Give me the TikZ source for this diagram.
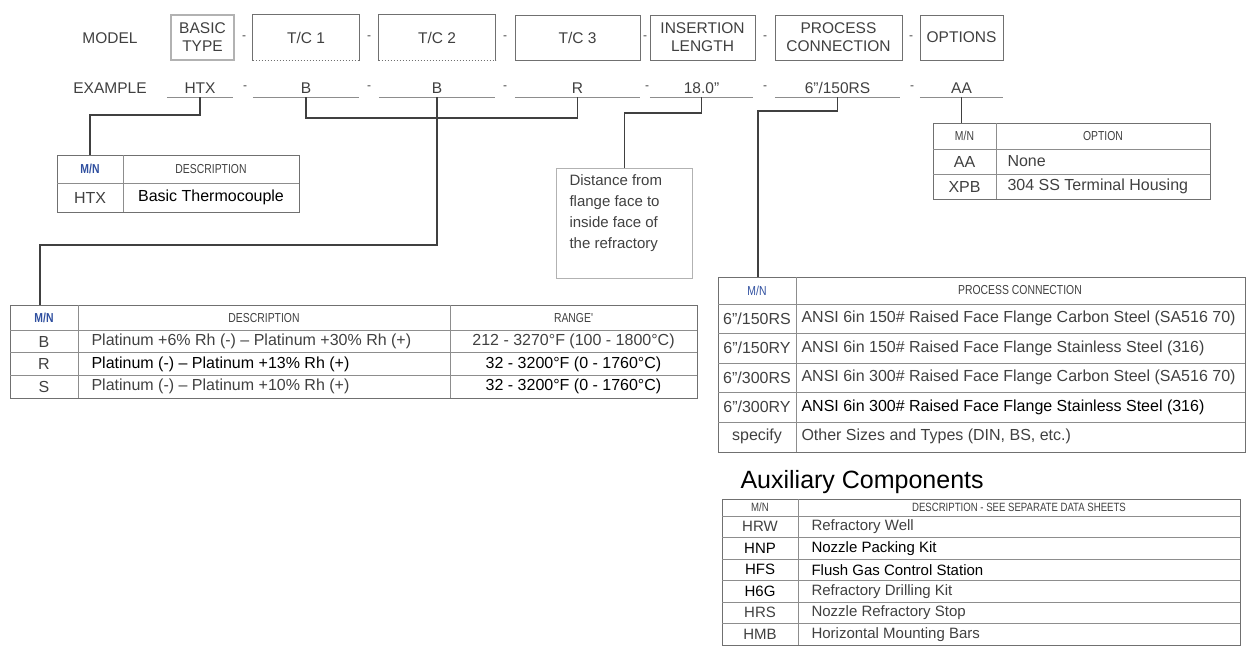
\documentclass[tikz,border=0pt]{standalone}
\usepackage{fontspec}
\setmainfont{Liberation Sans}
\newfontfamily\narrowfont[FakeStretch=0.8]{Liberation Sans}
\usetikzlibrary{positioning}
\definecolor{ink}{HTML}{404040}
\definecolor{rulegray}{HTML}{707070}
\definecolor{mnblue}{HTML}{2F4F9F}
\tikzstyle{conn} = [draw=ink, line width=1.6pt]

\begin{document}
\begin{tikzpicture}[x=1pt, y=-1pt,
        lbl/.style={font=\fontsize{15.5}{18}\selectfont, text=ink},
        fld/.style={draw=rulegray, line width=1pt, minimum height=45pt, inner sep=0pt, align=center, font=\fontsize{15.5}{18}\selectfont, text=ink},
        val/.style={minimum height=18pt, inner sep=0pt, font=\fontsize{15.5}{18}\selectfont, text=ink},
        sep/.style={font=\fontsize{12}{12}\selectfont, text=ink},
        tab/.style={draw=rulegray, line width=1.2pt, inner sep=0pt, anchor=north west},
        grid/.style={draw=rulegray!80, line width=0.9pt},
        hd/.style={font=\narrowfont\fontsize{13}{14}\selectfont, text=ink},
        cell/.style={font=\fontsize{16}{18}\selectfont, text=ink},
        lcell/.style={cell, anchor=west}
        ]
        \useasboundingbox (0,0) rectangle (1247,653);

        % model row
        \node[lbl] (mdl) at (110,38) {MODEL};
        \node[fld, draw=gray!60, line width=1.6pt, minimum width=63pt] (fType) at (202.5,37.5) {BASIC\\TYPE};
        \node[fld, draw=none, minimum width=106pt] (fTC1) at (306,37.5) {T/C 1};
        \node[fld, draw=none, minimum width=116pt] (fTC2) at (437,37.5) {T/C 2};
        \node[fld, minimum width=125pt] (fTC3) at (577.5,37.5) {T/C 3};
        \node[fld, minimum width=105pt] (fIns) at (702.5,37.5) {INSERTION\\LENGTH};
        \node[fld, minimum width=127pt] (fProc) at (838.5,37.5) {PROCESS\\CONNECTION};
        \node[fld, minimum width=83pt] (fOpt) at (961.5,37.5) {OPTIONS};
        \draw[rulegray, line width=1pt] (fTC1.south west) |- (fTC1.north east) -- (fTC1.south east);
        \draw[rulegray, line width=1pt] (fTC2.south west) |- (fTC2.north east) -- (fTC2.south east);
        \draw[rulegray, dotted, line width=1pt] (fTC1.south west) -- (fTC1.south east);
        \draw[rulegray, dotted, line width=1pt] (fTC2.south west) -- (fTC2.south east);

        \node[sep] (m1) at (244,38) {-};
        \node[sep] (m2) at (369,38) {-};
        \node[sep] (m3) at (505,38) {-};
        \node[sep] (m4) at (645,38) {-};
        \node[sep] (m5) at (765,38) {-};
        \node[sep] (m6) at (911,38) {-};

        % example row
        \node[lbl] (ex) at (110,88) {EXAMPLE};
        \node[val, minimum width=66pt] (vHTX) at (200,88) {HTX};
        \node[val, minimum width=106pt] (vTC1) at (306,88) {B};
        \node[val, minimum width=116pt] (vTC2) at (437,88) {B};
        \node[val, minimum width=125pt] (vTC3) at (577.5,88) {R};
        \node[val, minimum width=103pt] (vIns) at (701.5,88) {18.0"};
        \node[val, minimum width=125pt] (vProc) at (837.5,88) {6"/150RS};
        \node[val, minimum width=83pt] (vOpt) at (961.5,88) {AA};
        \foreach \v in {vHTX, vTC1, vTC2, vTC3, vIns, vProc, vOpt}
            \draw[grid] (\v.south west) -- (\v.south east);

        \node[sep] (e1) at (245,88) {-};
        \node[sep] (e2) at (369,88) {-};
        \node[sep] (e3) at (505,88) {-};
        \node[sep] (e4) at (647,88) {-};
        \node[sep] (e5) at (765,88) {-};
        \node[sep] (e6) at (912,88) {-};

        % basic type table
        \node[tab, minimum width=242pt, minimum height=57pt] (tHTX) at (57,155) {};
        \draw[grid] (123,155) -- (123,212);
        \draw[grid] (57,183) -- (299,183);
        \node[hd, text=mnblue] (hHTXmn) at (90,169) {\bfseries M/N};
        \node[hd] (hHTXds) at (211,169) {DESCRIPTION};
        \node[cell] (cHTXmn) at (90,197.5) {HTX};
        \node[cell, text=black] (cHTXds) at (211,197.5) {Basic Thermocouple};

        % thermocouple table
        \node[tab, minimum width=687pt, minimum height=93pt] (tTC) at (10,305) {};
        \draw[grid] (78,305) -- (78,398);
        \draw[grid] (450,305) -- (450,398);
        \draw[grid] (10,330) -- (697,330);
        \draw[grid] (10,352.5) -- (697,352.5);
        \draw[grid] (10,375) -- (697,375);
        \node[hd, text=mnblue] (hTCmn) at (44,318) {\bfseries M/N};
        \node[hd] (hTCds) at (264,318) {DESCRIPTION};
        \node[hd] (hTCrg) at (573.5,318) {RANGE'};
        \node[cell] (cBmn) at (44,341.5) {B};
        \node[lcell] (cBds) at (88,341.5) {Platinum +6\% Rh (-) -- Platinum +30\% Rh (+)};
        \node[cell] (cBrg) at (573.5,341.5) {212 - 3270°F (100 - 1800°C)};
        \node[cell] (cRmn) at (44,364) {R};
        \node[lcell, text=black] (cRds) at (88,364) {Platinum (-) -- Platinum +13\% Rh (+)};
        \node[cell, text=black] (cRrg) at (573.5,364) {32 - 3200°F (0 - 1760°C)};
        \node[cell] (cSmn) at (44,386.5) {S};
        \node[lcell] (cSds) at (88,386.5) {Platinum (-) -- Platinum +10\% Rh (+)};
        \node[cell, text=black] (cSrg) at (573.5,386.5) {32 - 3200°F (0 - 1760°C)};

        % insertion length note
        \node[tab, draw=gray!60, minimum width=136pt, minimum height=110pt] (tDist) at (556,168) {};
        \node[cell, font=\fontsize{15}{21}\selectfont, align=left, anchor=north west] (nDist) at (566,171) {Distance from\\flange face to\\inside face of\\the refractory};

        % options table
        \node[tab, minimum width=277pt, minimum height=76pt] (tOpt) at (933,123) {};
        \draw[grid] (996,123) -- (996,199);
        \draw[grid] (933,149) -- (1210,149);
        \draw[grid] (933,174) -- (1210,174);
        \node[hd] (hOptmn) at (964.5,136) {M/N};
        \node[hd] (hOptds) at (1103,136) {OPTION};
        \node[cell] (cAAmn) at (964.5,161.5) {AA};
        \node[lcell] (cAAds) at (1004,161.5) {None};
        \node[cell] (cXPmn) at (964.5,186.5) {XPB};
        \node[lcell] (cXPds) at (1004,186.5) {304 SS Terminal Housing};

        % process connection table
        \node[tab, minimum width=527pt, minimum height=174.5pt] (tProc) at (718,277) {};
        \draw[grid] (796,277) -- (796,451.5);
        \draw[grid] (718,304) -- (1245,304);
        \draw[grid] (718,333.5) -- (1245,333.5);
        \draw[grid] (718,363) -- (1245,363);
        \draw[grid] (718,392.5) -- (1245,392.5);
        \draw[grid] (718,422) -- (1245,422);
        \node[hd, text=mnblue] (hPrmn) at (757,290.5) {M/N};
        \node[hd] (hPrds) at (1020,290.5) {PROCESS CONNECTION};
        \node[cell] (cP1mn) at (757,318.75) {6"/150RS};
        \node[lcell] (cP1ds) at (798,318.75) {ANSI 6in 150\# Raised Face Flange Carbon Steel (SA516 70)};
        \node[cell] (cP2mn) at (757,348.25) {6"/150RY};
        \node[lcell] (cP2ds) at (798,348.25) {ANSI 6in 150\# Raised Face Flange Stainless Steel (316)};
        \node[cell] (cP3mn) at (757,377.75) {6"/300RS};
        \node[lcell] (cP3ds) at (798,377.75) {ANSI 6in 300\# Raised Face Flange Carbon Steel (SA516 70)};
        \node[cell] (cP4mn) at (757,407.25) {6"/300RY};
        \node[lcell, text=black] (cP4ds) at (798,407.25) {ANSI 6in 300\# Raised Face Flange Stainless Steel (316)};
        \node[cell] (cP5mn) at (757,436.75) {specify};
        \node[lcell] (cP5ds) at (798,436.75) {Other Sizes and Types (DIN, BS, etc.)};

        % auxiliary components
        \node[anchor=west, font=\fontsize{25}{28}\selectfont, text=black] (aux) at (737,482) {Auxiliary Components};
        \node[tab, minimum width=518pt, minimum height=146pt] (tAux) at (722,499) {};
        \draw[grid] (798,499) -- (798,645);
        \draw[grid] (722,516) -- (1240,516);
        \draw[grid] (722,537.5) -- (1240,537.5);
        \draw[grid] (722,559) -- (1240,559);
        \draw[grid] (722,580.5) -- (1240,580.5);
        \draw[grid] (722,602) -- (1240,602);
        \draw[grid] (722,623.5) -- (1240,623.5);
        \node[hd, font=\narrowfont\fontsize{12}{13}\selectfont] (hAuxmn) at (760,507.5) {M/N};
        \node[hd, font=\narrowfont\fontsize{12}{13}\selectfont] (hAuxds) at (1019,507.5) {DESCRIPTION -  SEE SEPARATE DATA SHEETS};
        \node[cell, font=\fontsize{15}{17}\selectfont] (cA1mn) at (760,526.75) {HRW};
        \node[lcell, font=\fontsize{15}{17}\selectfont] (cA1ds) at (808,526.75) {Refractory Well};
        \node[cell, font=\fontsize{15}{17}\selectfont, text=black] (cA2mn) at (760,548.25) {HNP};
        \node[lcell, font=\fontsize{15}{17}\selectfont, text=black] (cA2ds) at (808,548.25) {Nozzle Packing Kit};
        \node[cell, font=\fontsize{15}{17}\selectfont, text=black] (cA3mn) at (760,569.75) {HFS};
        \node[lcell, font=\fontsize{15}{17}\selectfont, text=black] (cA3ds) at (808,569.75) {Flush Gas Control Station};
        \node[cell, font=\fontsize{15}{17}\selectfont, text=black] (cA4mn) at (760,591.25) {H6G};
        \node[lcell, font=\fontsize{15}{17}\selectfont] (cA4ds) at (808,591.25) {Refractory Drilling Kit};
        \node[cell, font=\fontsize{15}{17}\selectfont] (cA5mn) at (760,612.75) {HRS};
        \node[lcell, font=\fontsize{15}{17}\selectfont] (cA5ds) at (808,612.75) {Nozzle Refractory Stop};
        \node[cell, font=\fontsize{15}{17}\selectfont] (cA6mn) at (760,634.25) {HMB};
        \node[lcell, font=\fontsize{15}{17}\selectfont] (cA6ds) at (808,634.25) {Horizontal Mounting Bars};

        % connectors
        \draw[conn] (vHTX.south) -- ++(0,18) -| ([xshift=33pt]tHTX.north west);
        \draw[conn] (vTC1.south) -- ++(0,21) -| (vTC3.south);
        \draw[conn] (vTC2.south) -- ++(0,148) -| ([xshift=30pt]tTC.north west);
        \draw[conn] (vIns.south) -- ++(0,16) -| (tDist.north);
        \draw[conn] (vProc.south) -- ++(0,14) -| ([xshift=40pt]tProc.north west);
        \draw[conn] (vOpt.south) -- (vOpt.south |- tOpt.north);

    \end{tikzpicture}
\end{document}
